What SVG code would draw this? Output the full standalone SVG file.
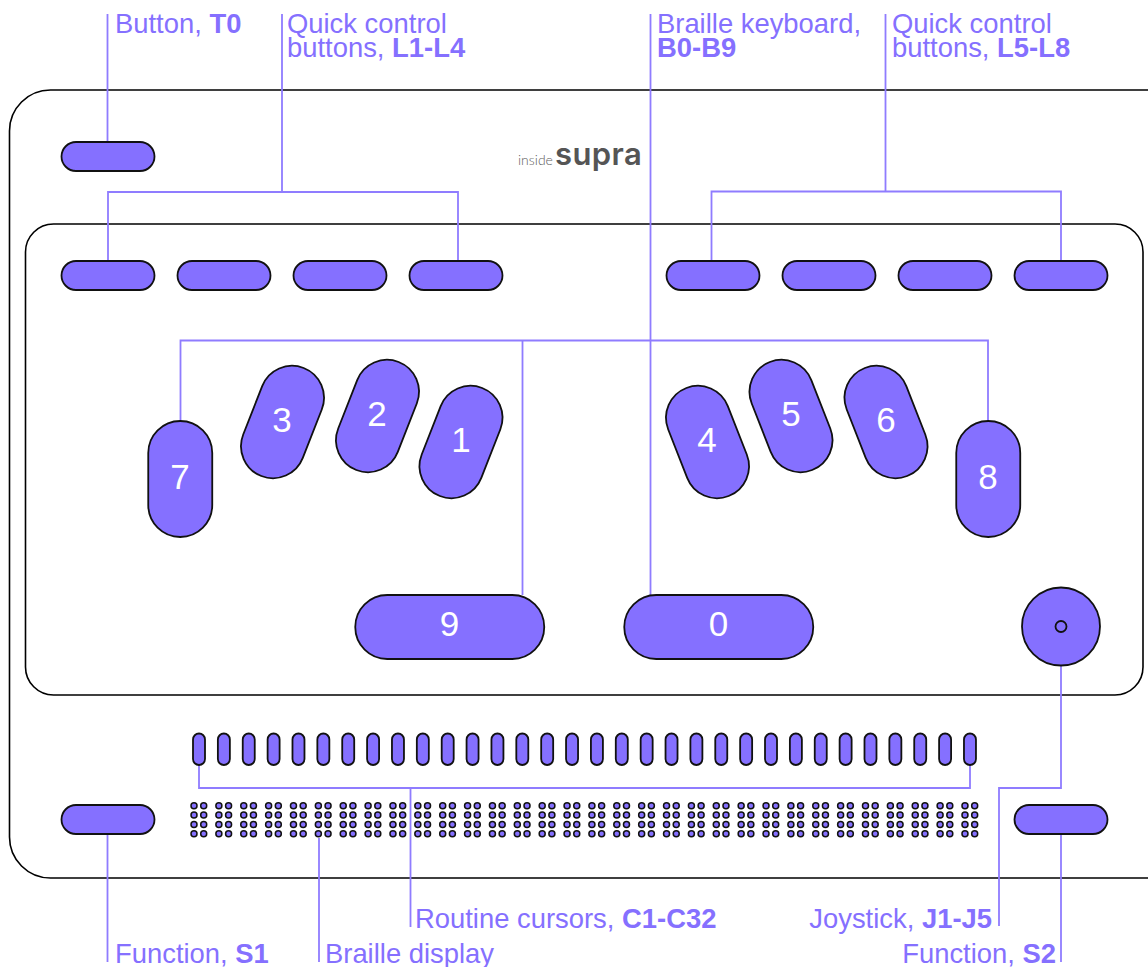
<svg xmlns="http://www.w3.org/2000/svg" width="1148" height="967" viewBox="0 0 1148 967">
<style>
.panel{fill:#fff;stroke:#000;stroke-width:1.6}
.btn{fill:#8570ff;stroke:#111;stroke-width:1.8}
.dot{fill:#8570ff;stroke:#111;stroke-width:1.5}
.wire{fill:none;stroke:#8f7cff;stroke-width:1.8}
.lbl{font-family:"Liberation Sans",Arial,sans-serif;font-size:27.4px;fill:#8570ff}
.lbl tspan.b{font-weight:700}
.key{font-family:"Liberation Sans",Arial,sans-serif;font-size:35px;fill:#fff;text-anchor:middle}
</style>
<defs>
<rect id="small" x="-46.5" y="-14.5" width="93" height="29" rx="14.5" class="btn"/>
<rect id="tall" x="-32" y="-58" width="64" height="116" rx="32" class="btn"/>
<rect id="wide" x="-94.5" y="-32" width="189" height="64" rx="32" class="btn"/>
<rect id="cur" x="-6" y="733.500" width="12" height="31.500" rx="6" class="btn"/>
<g id="cell">
<circle cx="194" cy="805.7" r="3" class="dot"/><circle cx="203.7" cy="805.7" r="3" class="dot"/>
<circle cx="194" cy="815" r="3" class="dot"/><circle cx="203.7" cy="815" r="3" class="dot"/>
<circle cx="194" cy="824.4" r="3" class="dot"/><circle cx="203.7" cy="824.4" r="3" class="dot"/>
<circle cx="194" cy="833.7" r="3" class="dot"/><circle cx="203.7" cy="833.7" r="3" class="dot"/>
</g>
</defs>
<rect width="1148" height="967" fill="#fff"/>
<g id="device">
<rect class="panel" x="9.5" y="90" width="1180" height="788" rx="41"/>
<rect class="panel" x="25.5" y="224" width="1117.5" height="471" rx="28"/>
<text x="518" y="165" font-family="Lato,sans-serif" font-weight="300" font-size="14" fill="#606060">inside</text>
<text x="555" y="165" font-family="Inter,sans-serif" font-weight="600" font-size="31" letter-spacing="0.4" fill="#555">supra</text>
</g>
<g id="connectors">
<path class="wire" d="M107.500 14V142"/>
<path class="wire" d="M282 14V192M108 261V192H458V261"/>
<path class="wire" d="M650.500 14V595"/>
<path class="wire" d="M885.500 14V191.500M711.500 261V191.500H1061V261"/>
<path class="wire" d="M180.500 421V340.500H988V421M522.500 340.500V595"/>
<path class="wire" d="M199 765V788H970V765M410.500 788V927"/>
<path class="wire" d="M1061 666V788H999V926"/>
<path class="wire" d="M1061 834V962"/>
<path class="wire" d="M107.500 834V962"/>
<path class="wire" d="M319 838V962"/>
</g>
<g id="t0"><use href="#small" x="108" y="156.500"/></g>
<g id="l1"><use href="#small" x="108" y="275.500"/></g>
<g id="l2"><use href="#small" x="224" y="275.500"/></g>
<g id="l3"><use href="#small" x="340" y="275.500"/></g>
<g id="l4"><use href="#small" x="456" y="275.500"/></g>
<g id="l5"><use href="#small" x="713" y="275.500"/></g>
<g id="l6"><use href="#small" x="829" y="275.500"/></g>
<g id="l7"><use href="#small" x="945" y="275.500"/></g>
<g id="l8"><use href="#small" x="1061" y="275.500"/></g>
<g id="s1"><use href="#small" x="108" y="819.500"/></g>
<g id="s2"><use href="#small" x="1061" y="819.500"/></g>
<g id="b7"><use href="#tall" transform="translate(180.250 479)"/><text class="key" x="180" y="489">7</text></g>
<g id="b3"><use href="#tall" transform="translate(282.500 422) rotate(21.400)"/><text class="key" x="282" y="432">3</text></g>
<g id="b2"><use href="#tall" transform="translate(377.500 416) rotate(21.400)"/><text class="key" x="377" y="426">2</text></g>
<g id="b1"><use href="#tall" transform="translate(461 442) rotate(21.400)"/><text class="key" x="461" y="452">1</text></g>
<g id="b4"><use href="#tall" transform="translate(707.500 442) rotate(-21.400)"/><text class="key" x="707" y="452">4</text></g>
<g id="b5"><use href="#tall" transform="translate(791 416) rotate(-21.400)"/><text class="key" x="791" y="426">5</text></g>
<g id="b6"><use href="#tall" transform="translate(886 422) rotate(-21.400)"/><text class="key" x="886" y="432">6</text></g>
<g id="b8"><use href="#tall" transform="translate(988.250 479)"/><text class="key" x="988" y="489">8</text></g>
<g id="b9"><use href="#wide" x="449.750" y="627"/><text class="key" x="449.500" y="636">9</text></g>
<g id="b0"><use href="#wide" x="718.750" y="627"/><text class="key" x="718.500" y="636">0</text></g>
<g id="joystick"><circle class="btn" cx="1061" cy="626.500" r="39"/><circle class="btn" cx="1061" cy="626.500" r="5.500"/></g>
<g id="cursors">
<use href="#cur" x="199"/><use href="#cur" x="223.870"/><use href="#cur" x="248.740"/><use href="#cur" x="273.610"/><use href="#cur" x="298.480"/><use href="#cur" x="323.350"/><use href="#cur" x="348.220"/><use href="#cur" x="373.090"/><use href="#cur" x="397.960"/><use href="#cur" x="422.830"/><use href="#cur" x="447.700"/><use href="#cur" x="472.570"/><use href="#cur" x="497.440"/><use href="#cur" x="522.310"/><use href="#cur" x="547.180"/><use href="#cur" x="572.050"/><use href="#cur" x="596.920"/><use href="#cur" x="621.790"/><use href="#cur" x="646.660"/><use href="#cur" x="671.530"/><use href="#cur" x="696.400"/><use href="#cur" x="721.270"/><use href="#cur" x="746.140"/><use href="#cur" x="771.010"/><use href="#cur" x="795.880"/><use href="#cur" x="820.750"/><use href="#cur" x="845.620"/><use href="#cur" x="870.490"/><use href="#cur" x="895.360"/><use href="#cur" x="920.230"/><use href="#cur" x="945.100"/><use href="#cur" x="969.970"/>
</g>
<g id="braille-display">
<use href="#cell" x="0"/><use href="#cell" x="24.870"/><use href="#cell" x="49.740"/><use href="#cell" x="74.610"/><use href="#cell" x="99.480"/><use href="#cell" x="124.350"/><use href="#cell" x="149.220"/><use href="#cell" x="174.090"/><use href="#cell" x="198.960"/><use href="#cell" x="223.830"/><use href="#cell" x="248.700"/><use href="#cell" x="273.570"/><use href="#cell" x="298.440"/><use href="#cell" x="323.310"/><use href="#cell" x="348.180"/><use href="#cell" x="373.050"/><use href="#cell" x="397.920"/><use href="#cell" x="422.790"/><use href="#cell" x="447.660"/><use href="#cell" x="472.530"/><use href="#cell" x="497.400"/><use href="#cell" x="522.270"/><use href="#cell" x="547.140"/><use href="#cell" x="572.010"/><use href="#cell" x="596.880"/><use href="#cell" x="621.750"/><use href="#cell" x="646.620"/><use href="#cell" x="671.490"/><use href="#cell" x="696.360"/><use href="#cell" x="721.230"/><use href="#cell" x="746.100"/><use href="#cell" x="770.970"/>
</g>
<g id="labels">
<text class="lbl" x="115" y="32.500">Button, <tspan class="b">T0</tspan></text>
<text class="lbl" x="287" y="32.500">Quick control</text>
<text class="lbl" x="287" y="57">buttons, <tspan class="b">L1-L4</tspan></text>
<text class="lbl" x="657" y="32.500">Braille keyboard,</text>
<text class="lbl" x="657" y="57"><tspan class="b">B0-B9</tspan></text>
<text class="lbl" x="892" y="32.500">Quick control</text>
<text class="lbl" x="892" y="57">buttons, <tspan class="b">L5-L8</tspan></text>
<text class="lbl" x="415" y="927.500">Routine cursors, <tspan class="b">C1-C32</tspan></text>
<text class="lbl" x="992" y="927.500" text-anchor="end">Joystick, <tspan class="b">J1-J5</tspan></text>
<text class="lbl" x="115" y="962.500">Function, <tspan class="b">S1</tspan></text>
<text class="lbl" x="325" y="962.500">Braille display</text>
<text class="lbl" x="1056" y="962.500" text-anchor="end">Function, <tspan class="b">S2</tspan></text>
</g>
</svg>
